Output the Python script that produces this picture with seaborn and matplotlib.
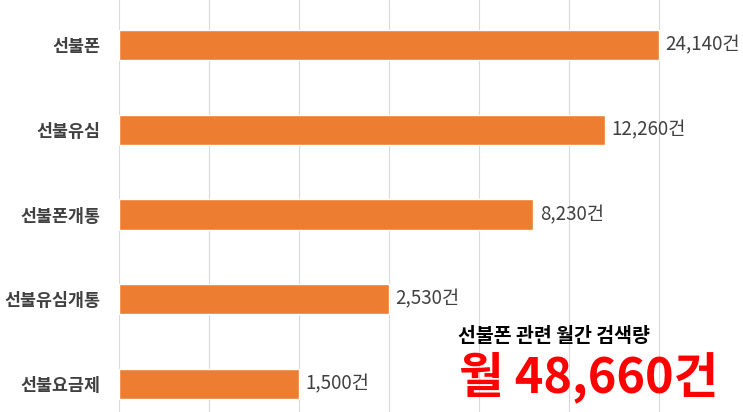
import pandas as pd
import matplotlib.pyplot as plt
import seaborn as sns

# Data
categories = ['선불폰', '선불유심', '선불폰개통', '선불유심개통', '선불요금제']
search_counts = [24140, 12260, 8230, 2530, 1500]
# bar lengths as drawn in the picture (in gridline units, not proportional to counts)
bar_lengths = [6.0, 5.4, 4.6, 3.0, 2.0]
total_label = '월 48,660건'
total_title = '선불폰 관련 월간 검색량'

BAR_COLOR = '#ED7D31'
GRID_COLOR = '#D9D9D9'
TEXT_COLOR = '#404040'

sns.set_theme(style='white')
plt.rcParams['font.family'] = ['Noto Sans CJK KR', 'DejaVu Sans']

df = pd.DataFrame({'category': categories, 'length': bar_lengths, 'count': search_counts})

fig = plt.figure(figsize=(7.43, 4.12), dpi=100)
ax = fig.add_axes([118.5 / 743, 0, 1 - 118.5 / 743, 1])

sns.barplot(data=df, x='length', y='category', orient='h', color=BAR_COLOR,
            width=0.355, saturation=1, ax=ax, zorder=2)

ax.set_xlim(0, (743 - 118.5) / 90)
ax.set_ylim(4.33, -0.531)
ax.set_xticks(range(0, 7))
ax.set_xticklabels([])
ax.grid(axis='x', color=GRID_COLOR, linewidth=0.8, zorder=0)
ax.grid(axis='y', visible=False)
for side in ['top', 'right', 'bottom', 'left']:
    ax.spines[side].set_visible(False)
ax.set_xlabel('')
ax.set_ylabel('')
ax.tick_params(axis='y', length=0, pad=13)
ax.tick_params(axis='x', length=0)
for lbl in ax.get_yticklabels():
    lbl.set_fontsize(12.5)
    lbl.set_fontweight('bold')
    lbl.set_color(TEXT_COLOR)

# value labels
for i, (length, count) in enumerate(zip(bar_lengths, search_counts)):
    ax.text(length + 0.08, i, f'{count:,}건', va='center', ha='left',
            fontsize=13.5, color=TEXT_COLOR)

# summary annotation
fig.text(458 / 743, 1 - 337 / 412, total_title, ha='left', va='center',
         fontsize=14, fontweight='bold', color='black')
fig.text(459 / 743, 1 - 377 / 412, total_label, ha='left', va='center',
         fontsize=35, fontweight='bold', color='#FF0000')

fig.savefig('out.png', dpi=100)
